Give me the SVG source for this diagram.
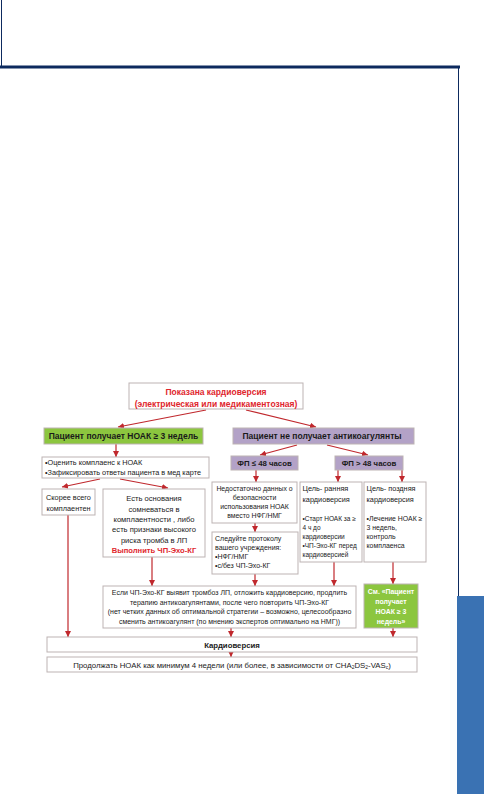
<svg xmlns="http://www.w3.org/2000/svg" width="484" height="794" viewBox="0 0 484 794">
<style>
.box{fill:#ffffff;stroke:#bdb3b3;stroke-width:1}
.green{fill:#8cc63f;stroke:#bdb3b3;stroke-width:1}
.purple{fill:#b3a2c7;stroke:#bdb3b3;stroke-width:1}
.c{stroke:#c0282d;stroke-width:1.2;fill:none;marker-end:url(#ah)}
text{font-family:"Liberation Sans",Arial,sans-serif;fill:#1a1a1a}
.h{font-weight:bold;font-size:8.5px}
.red{fill:#e0262d;font-weight:bold}
.s{font-size:7px}
.m{font-size:7.6px}
.w{fill:#ffffff;font-weight:bold;font-size:6.9px}
</style>
<defs>
<marker id="ah" viewBox="0 0 6 6" refX="6" refY="3" markerWidth="6" markerHeight="6" markerUnits="userSpaceOnUse" orient="auto">
<path d="M0,0 L6,3 L0,6 z" fill="#c0282d"/>
</marker>
</defs>
<rect width="484" height="794" fill="#ffffff"/>
<g id="page-frame">
<line x1="1.5" y1="0" x2="1.5" y2="67" stroke="#0d2a5e" stroke-width="1"/>
<line x1="0" y1="67" x2="460" y2="67" stroke="#0d2a5e" stroke-width="3"/>
<line x1="458.5" y1="67" x2="458.5" y2="596" stroke="#0d2a5e" stroke-width="1"/>
<rect x="457" y="596" width="27" height="198" fill="#3a72b3"/>
</g>
<g id="connectors">
<line class="c" x1="206" y1="410" x2="118" y2="427"/>
<line class="c" x1="246" y1="410" x2="316" y2="427"/>
<line class="c" x1="116" y1="444" x2="116" y2="457"/>
<line class="c" x1="100" y1="479" x2="62" y2="487"/>
<line class="c" x1="120" y1="479" x2="168" y2="488"/>
<line class="c" x1="297" y1="445" x2="260" y2="455"/>
<line class="c" x1="327" y1="445" x2="368" y2="455"/>
<line class="c" x1="256" y1="470" x2="256" y2="482"/>
<line class="c" x1="338" y1="470" x2="338" y2="482"/>
<line class="c" x1="402" y1="470" x2="402" y2="482"/>
<line class="c" x1="255" y1="523" x2="255" y2="532"/>
<line class="c" x1="255" y1="574" x2="255" y2="586"/>
<line class="c" x1="334" y1="562" x2="334" y2="586"/>
<line class="c" x1="393" y1="562" x2="393" y2="584"/>
<line class="c" x1="152" y1="557" x2="152" y2="586"/>
<line class="c" x1="68" y1="515" x2="68" y2="637"/>
<line class="c" x1="231" y1="628" x2="231" y2="637"/>
<line class="c" x1="393" y1="628" x2="393" y2="637"/>
<line class="c" x1="231" y1="652" x2="231" y2="657"/>
</g>
<g id="start">
<rect class="box" x="129" y="383" width="174" height="26"/>
<text class="red" font-size="8.5" x="216" y="395" text-anchor="middle">Показана кардиоверсия</text>
<text class="red" font-size="8.5" x="216" y="406.5" text-anchor="middle">(электрическая или медикаментозная)</text>
</g>
<g id="noac">
<rect class="green" x="44" y="428" width="159" height="16"/>
<text class="h" x="123.5" y="439.2" text-anchor="middle">Пациент получает НОАК ≥ 3 недель</text>
</g>
<g id="no-anticoag">
<rect class="purple" x="233" y="428" width="181" height="16"/>
<text class="h" x="322" y="439.2" text-anchor="middle">Пациент не получает антикоагулянты</text>
</g>
<g id="assess">
<rect class="box" x="42" y="457" width="167" height="21"/>
<text font-size="7.3" x="45" y="465">•Оценить комплаенс к НОАК</text>
<text font-size="7.3" x="45" y="474.5">•Зафиксировать ответы пациента в мед карте</text>
</g>
<g id="compliant">
<rect class="box" x="42" y="489" width="53" height="26"/>
<text font-size="7.3" x="68.5" y="500" text-anchor="middle">Скорее всего</text>
<text font-size="7.3" x="68.5" y="510.5" text-anchor="middle">комплаентен</text>
</g>
<g id="doubt">
<rect class="box" x="103" y="489" width="102" height="68"/>
<text class="m" x="154" y="501" text-anchor="middle">Есть основания</text>
<text class="m" x="154" y="511.5" text-anchor="middle">сомневаться в</text>
<text class="m" x="154" y="522" text-anchor="middle">комплаентности  , либо</text>
<text class="m" x="154" y="532" text-anchor="middle">есть признаки  высокого</text>
<text class="m" x="154" y="542.5" text-anchor="middle">риска тромба  в ЛП</text>
<text class="m red" x="154" y="553" text-anchor="middle">Выполнить ЧП-Эхо-КГ</text>
</g>
<g id="af-le48">
<rect class="purple" x="231" y="456" width="67" height="14"/>
<text font-weight="bold" font-size="7.8" x="264.5" y="466" text-anchor="middle">ФП ≤ 48 часов</text>
</g>
<g id="af-gt48">
<rect class="purple" x="335" y="456" width="68" height="14"/>
<text font-weight="bold" font-size="7.8" x="369" y="466" text-anchor="middle">ФП &gt; 48 часов</text>
</g>
<g id="insufficient">
<rect class="box" x="212" y="482" width="85" height="41"/>
<text font-size="6.9" x="254.5" y="490.5" text-anchor="middle">Недостаточно данных о</text>
<text font-size="6.9" x="254.5" y="499.5" text-anchor="middle">безопасности</text>
<text font-size="6.9" x="254.5" y="508.5" text-anchor="middle">использования НОАК</text>
<text font-size="6.9" x="254.5" y="517.5" text-anchor="middle">вместо НФГ/НМГ</text>
</g>
<g id="protocol">
<rect class="box" x="212" y="532" width="86" height="42"/>
<text class="s" x="215" y="541">Следуйте протоколу</text>
<text class="s" x="215" y="550">вашего учреждения:</text>
<text class="s" x="215" y="559">•НФГ/НМГ</text>
<text class="s" x="215" y="568">•с/без ЧП-Эхо-КГ</text>
</g>
<g id="early">
<rect class="box" x="300" y="482" width="62" height="80"/>
<text font-size="7.3" x="302.5" y="491">Цель- ранняя</text>
<text font-size="7.3" x="302.5" y="501.5">кардиоверсия</text>
<text font-size="6.5" x="302.5" y="521">•Старт НОАК за ≥</text>
<text font-size="6.5" x="302.5" y="530">4 ч до</text>
<text font-size="6.5" x="302.5" y="539">кардиоверсии</text>
<text font-size="6.5" x="302.5" y="548">•ЧП-Эхо-КГ перед</text>
<text font-size="6.5" x="302.5" y="557">кардиоверсией</text>
</g>
<g id="late">
<rect class="box" x="364" y="482" width="62" height="80"/>
<text font-size="7.3" x="366.5" y="491">Цель- поздняя</text>
<text font-size="7.3" x="366.5" y="501.5">кардиоверсия</text>
<text font-size="6.9" x="366.5" y="521">•Лечение НОАК ≥</text>
<text font-size="6.9" x="366.5" y="530">3 недель,</text>
<text font-size="6.9" x="366.5" y="539">контроль</text>
<text font-size="6.9" x="366.5" y="548">комплаенса</text>
</g>
<g id="tee-result">
<rect class="box" x="103" y="586" width="253" height="42"/>
<text class="s" x="229.5" y="595" text-anchor="middle">Если ЧП-Эхо-КГ выявит тромбоз ЛП, отложить кардиоверсию, продлить</text>
<text class="s" x="229.5" y="604.5" text-anchor="middle">терапию антикоагулянтами, после чего повторить ЧП-Эхо-КГ</text>
<text class="s" x="229.5" y="614" text-anchor="middle">(нет четких данных об оптимальной стратегии – возможно, целесообразно</text>
<text class="s" x="229.5" y="623.5" text-anchor="middle">сменить антикоагулянт (по мнению экспертов оптимально на НМГ))</text>
</g>
<g id="see-noac">
<rect class="green" x="364" y="584" width="54" height="44"/>
<text class="w" x="391" y="594" text-anchor="middle">См. «Пациент</text>
<text class="w" x="391" y="604" text-anchor="middle">получает</text>
<text class="w" x="391" y="614" text-anchor="middle">НОАК ≥ 3</text>
<text class="w" x="391" y="624" text-anchor="middle">недель»</text>
</g>
<g id="cardioversion">
<rect class="box" x="47" y="637" width="370" height="15"/>
<text font-size="7.8" font-weight="bold" x="232" y="647.5" text-anchor="middle">Кардиоверсия</text>
</g>
<g id="continue">
<rect class="box" x="47" y="657" width="370" height="15"/>
<text font-size="7.8" x="232" y="667.5" text-anchor="middle">Продолжать НОАК как минимум 4 недели (или более, в зависимости от CHA<tspan font-size="5" dy="1.5">2</tspan><tspan dy="-1.5">DS</tspan><tspan font-size="5" dy="1.5">2</tspan><tspan dy="-1.5">-VAS</tspan><tspan font-size="5" dy="1.5">c</tspan><tspan dy="-1.5">)</tspan></text>
</g>
</svg>
